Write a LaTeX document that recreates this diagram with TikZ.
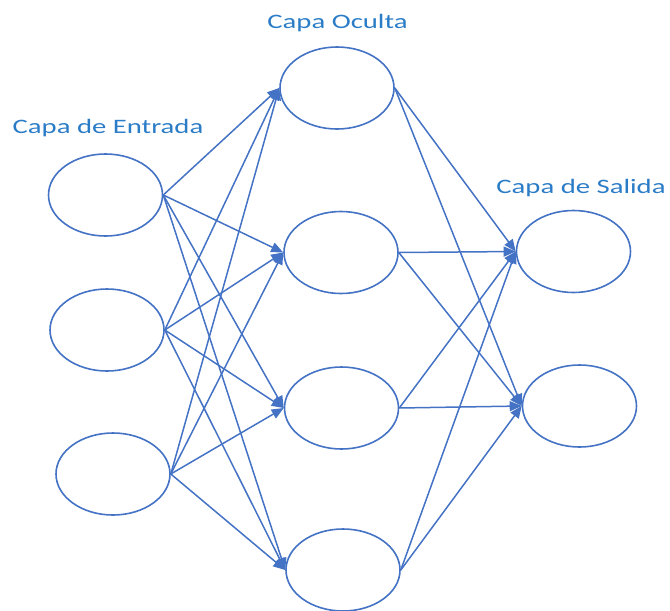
\documentclass[tikz,border=0pt]{standalone}
\usepackage{fontspec}
\setmainfont{Carlito}
\usetikzlibrary{shapes.geometric,arrows.meta}
\definecolor{linecol}{HTML}{4472C4}
\definecolor{textcol}{HTML}{2A7CC7}
\begin{document}
\begin{tikzpicture}[x=1pt,y=-1pt,
  neuron/.style={ellipse,draw=linecol,line width=1.6pt,minimum width=114pt,minimum height=82pt,inner sep=0pt},
  link/.style={draw=linecol,line width=1.5pt,-{Triangle[length=12pt,width=10pt]}},
  title/.style={text=textcol,font=\fontsize{20.5}{24}\selectfont,xscale=1.4,anchor=base,inner sep=0pt}]
\useasboundingbox (0,0) rectangle (670,611);
% input layer
\node[neuron] (i1) at (105.5,195) {};
\node[neuron] (i2) at (107,330) {};
\node[neuron] (i3) at (113,474) {};
% hidden layer
\node[neuron] (h1) at (337,88) {};
\node[neuron] (h2) at (341,252.5) {};
\node[neuron] (h3) at (341.5,408) {};
\node[neuron] (h4) at (343,570) {};
% output layer
\node[neuron] (o1) at (573.5,251.5) {};
\node[neuron] (o2) at (579.5,406) {};
% titles
\node[title] (t1) at (108,133) {Capa de Entrada};
\node[title] (t2) at (337.5,28) {Capa Oculta};
\node[title] (t3) at (581,193) {Capa de Salida};
% connections
\foreach \a in {i1,i2,i3}{
  \foreach \b in {h1,h2,h3,h4}{
    \draw[link] (\a.east) -- (\b.west);
  }
}
\foreach \a in {h1,h2,h3,h4}{
  \foreach \b in {o1,o2}{
    \draw[link] (\a.east) -- (\b.west);
  }
}
\end{tikzpicture}
\end{document}
